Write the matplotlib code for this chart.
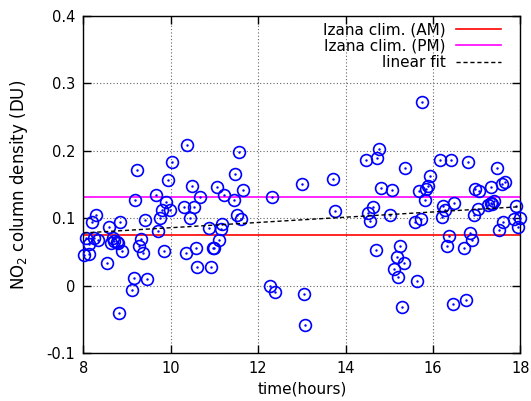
import numpy as np
import matplotlib
matplotlib.use("Agg")
import matplotlib.pyplot as plt

# Observation time (hours) and NO2 column density (DU)
hours = [
    8.01, 8.12, 8.05, 8.14, 8.19, 8.28, 8.24, 8.33, 8.54, 8.58,
    8.63, 8.68, 8.71, 8.76, 8.79, 8.81, 8.84, 8.89, 9.11, 9.15,
    9.19, 9.23, 9.27, 9.32, 9.37, 9.41, 9.45, 9.67, 9.71, 9.75,
    9.79, 9.85, 9.89, 9.93, 9.99, 10.02,
    10.31, 10.35, 10.38, 10.44, 10.49, 10.54, 10.57, 10.61, 10.67, 10.87,
    10.92, 10.97, 11.00, 11.05, 11.10, 11.14, 11.18, 11.22, 11.44, 11.48,
    11.52, 11.57, 11.60, 11.65,
    12.27, 12.32, 12.38, 13.00, 13.05, 13.08, 13.71, 13.76,
    15.76, 14.77, 14.46, 14.72, 15.37, 16.15, 16.42, 16.80, 17.46, 15.93,
    15.88, 15.84, 14.81, 15.07, 15.67, 15.81, 16.97, 17.06, 17.33, 17.57,
    17.65, 14.51, 14.63, 14.55, 15.02, 15.59, 15.72, 16.23, 16.27, 16.20,
    16.49, 17.02, 16.93, 17.26, 17.33, 17.39, 17.36, 17.90, 17.61, 17.51,
    17.86, 18.00, 17.95,
    14.69, 15.24, 15.17, 15.33, 15.11, 15.20, 15.63, 15.28, 16.36, 16.33,
    16.71, 16.84, 16.90, 16.46, 16.76,
]
no2 = [
    0.046, 0.047, 0.070, 0.062, 0.095, 0.105, 0.071, 0.068, 0.033, 0.087,
    0.063, 0.070, 0.066, 0.064, 0.063, -0.041, 0.094, 0.051, -0.006, 0.011,
    0.127, 0.171, 0.058, 0.069, 0.048, 0.097, 0.010, 0.135, 0.081, 0.100,
    0.112, 0.051, 0.124, 0.157, 0.112, 0.183,
    0.116, 0.049, 0.208, 0.100, 0.147, 0.117, 0.055, 0.027, 0.131, 0.086,
    0.027, 0.056, 0.055, 0.146, 0.067, 0.084, 0.091, 0.135, 0.127, 0.166,
    0.104, 0.198, 0.099, 0.142,
    0.000, 0.131, -0.009, 0.150, -0.012, -0.059, 0.158, 0.111,
    0.273, 0.202, 0.187, 0.189, 0.175, 0.186, 0.187, 0.183, 0.174, 0.163,
    0.148, 0.144, 0.145, 0.142, 0.140, 0.127, 0.143, 0.140, 0.146, 0.151,
    0.153, 0.108, 0.116, 0.096, 0.105, 0.094, 0.098, 0.118, 0.112, 0.101,
    0.122, 0.114, 0.104, 0.120, 0.122, 0.125, 0.121, 0.118, 0.095, 0.083,
    0.099, 0.100, 0.087,
    0.052, 0.058, 0.043, 0.034, 0.025, 0.013, 0.007, -0.032, 0.074, 0.059,
    0.056, 0.078, 0.067, -0.028, -0.021,
]

# Izana climatology levels and linear fit end points
clim_am = 0.075
clim_pm = 0.131
fit_hours = [8.0, 18.0]
fit_values = [0.078, 0.117]

x_ticks = [8, 10, 12, 14, 16, 18]
y_ticks = [-0.1, 0.0, 0.1, 0.2, 0.3, 0.4]
y_tick_labels = ["-0.1", "0", "0.1", "0.2", "0.3", "0.4"]

plt.rcParams["font.family"] = ["DejaVu Sans"]
plt.rcParams["font.size"] = 10

fig = plt.figure(figsize=(5.31, 4.01), dpi=100)
ax = fig.add_axes([0.157, 0.120, 0.823, 0.840])

ax.set_xlim(8, 18)
ax.set_ylim(-0.1, 0.4)

ax.grid(True, color="#666666", linestyle=(0, (1, 2)), linewidth=0.8)
ax.set_axisbelow(True)

ax.plot(hours, no2, linestyle="none", marker="o", markersize=8.5,
        markerfacecolor="none", markeredgecolor="#0000ff",
        markeredgewidth=1.2, zorder=3, clip_on=False)
ax.plot(hours, no2, linestyle="none", marker=".", markersize=1.5,
        color="#0000ff", zorder=3, clip_on=False)

ax.axhline(clim_am, color="#ff0000", linewidth=1.2, label="Izana clim. (AM)", zorder=2)
ax.axhline(clim_pm, color="#ff00ff", linewidth=1.2, label="Izana clim. (PM)", zorder=2)
ax.plot(fit_hours, fit_values, color="black", linestyle=(0, (3, 2)),
        linewidth=1.0, label="linear fit", zorder=4)

ax.set_xticks(x_ticks)
ax.set_yticks(y_ticks)
ax.set_yticklabels(y_tick_labels)
ax.tick_params(direction="in", length=6, width=1, top=True, right=True,
               labelsize=10.5, pad=6)

ax.set_xlabel("time(hours)", fontsize=11, labelpad=4)
ax.set_ylabel("NO$_2$ column density (DU)", fontsize=12, labelpad=12)

for s in ax.spines.values():
    s.set_linewidth(1.0)

leg = ax.legend(loc="upper right", bbox_to_anchor=(0.955, 0.982),
                frameon=False, markerfirst=False, fontsize=11,
                handlelength=2.9, borderaxespad=0.0, borderpad=0.0,
                labelspacing=0.1, handletextpad=0.7)

fig.savefig("out.png", dpi=100)
